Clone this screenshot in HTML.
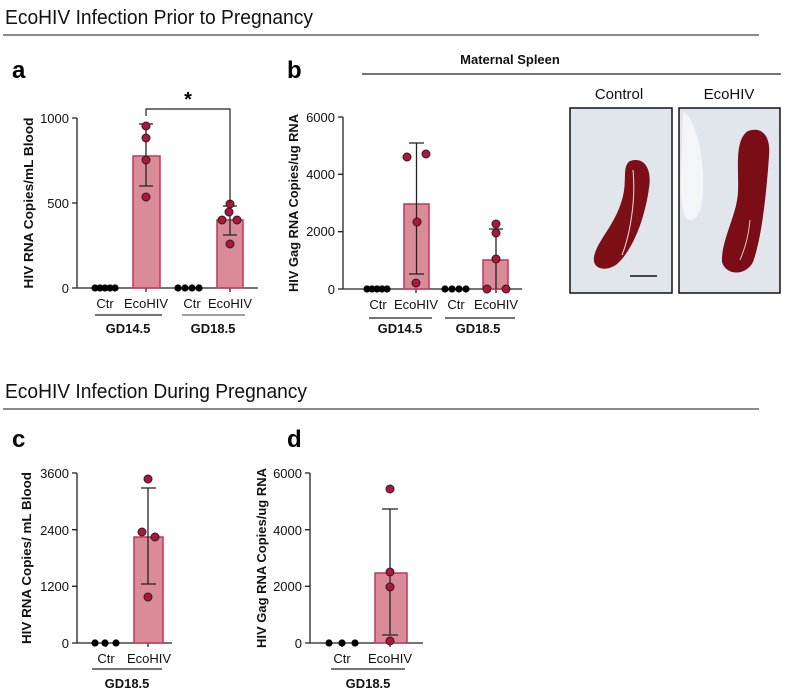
<!DOCTYPE html>
<html><head><meta charset="utf-8"><style>
html,body{margin:0;padding:0;background:#fff;}
svg{display:block;font-family:"Liberation Sans",Arial,sans-serif;}
.t{font-size:13px;fill:#111;}
.b{font-weight:bold;}
.ax{stroke:#222;stroke-width:1.3;fill:none;}
.bar{fill:#d98c98;stroke:#c2375a;stroke-width:1.5;}
.er{stroke:#222;stroke-width:1.3;}
.d{fill:#b3143c;stroke:#222;stroke-width:1;}
.k{fill:#000;}
</style></head><body>
<svg width="785" height="698" viewBox="0 0 785 698">
<!-- headers -->
<text x="5" y="24" font-size="20" textLength="308" lengthAdjust="spacingAndGlyphs" fill="#111">EcoHIV Infection Prior to Pregnancy</text>
<line x1="3" y1="35" x2="759" y2="35" stroke="#444" stroke-width="1.2"/>
<text x="5" y="398" font-size="20" textLength="302" lengthAdjust="spacingAndGlyphs" fill="#111">EcoHIV Infection During Pregnancy</text>
<line x1="3" y1="409" x2="759" y2="409" stroke="#444" stroke-width="1.2"/>
<text x="12" y="78" font-size="24" class="b" fill="#000">a</text>
<text x="287" y="78" font-size="24" class="b" fill="#000">b</text>
<text x="12" y="447" font-size="24" class="b" fill="#000">c</text>
<text x="287" y="447" font-size="24" class="b" fill="#000">d</text>

<!-- Panel a -->
<text transform="translate(33,203) rotate(-90)" text-anchor="middle" class="t b" textLength="171" lengthAdjust="spacingAndGlyphs">HIV RNA Copies/mL Blood</text>
<path class="ax" d="M77,118 V288 H258 M72,118 H77 M72,203 H77 M72,288 H77 M146,288 v4 M230,288 v4"/>
<text x="69" y="123" text-anchor="end" class="t">1000</text>
<text x="69" y="208" text-anchor="end" class="t">500</text>
<text x="69" y="293" text-anchor="end" class="t">0</text>
<rect class="bar" x="133" y="156" width="27" height="132"/>
<rect class="bar" x="217" y="220" width="26" height="68"/>
<path class="er" d="M146,124 V186 M139,124 H153 M139,186 H153 M230,206 V235 M223,206 H237 M223,235 H237"/>
<g class="d"><circle cx="146" cy="126" r="4"/><circle cx="146" cy="138" r="4"/><circle cx="146" cy="160" r="4"/><circle cx="146" cy="197" r="4"/>
<circle cx="230" cy="204" r="4"/><circle cx="229" cy="212" r="4"/><circle cx="222" cy="220" r="4"/><circle cx="237" cy="220" r="4"/><circle cx="230" cy="244" r="4"/></g>
<g class="k"><circle cx="95" cy="288" r="3.6"/><circle cx="100" cy="288" r="3.6"/><circle cx="105" cy="288" r="3.6"/><circle cx="110" cy="288" r="3.6"/><circle cx="115" cy="288" r="3.6"/>
<circle cx="178" cy="288" r="3.6"/><circle cx="185" cy="288" r="3.6"/><circle cx="192" cy="288" r="3.6"/><circle cx="199" cy="288" r="3.6"/></g>
<path d="M146,116 V109 H230 V203" stroke="#222" stroke-width="1.2" fill="none"/>
<text x="188" y="106" text-anchor="middle" font-size="20" class="b">*</text>
<text x="105" y="308" text-anchor="middle" class="t">Ctr</text>
<text x="146" y="308" text-anchor="middle" class="t">EcoHIV</text>
<text x="192" y="308" text-anchor="middle" class="t">Ctr</text>
<text x="230" y="308" text-anchor="middle" class="t">EcoHIV</text>
<line x1="95" y1="315" x2="162" y2="315" stroke="#222" stroke-width="1.2"/>
<line x1="182" y1="315" x2="245" y2="315" stroke="#666" stroke-width="1.2"/>
<text x="128" y="333" text-anchor="middle" class="t b">GD14.5</text>
<text x="213" y="333" text-anchor="middle" class="t b">GD18.5</text>

<!-- Panel b -->
<text x="510" y="64" text-anchor="middle" class="t b">Maternal Spleen</text>
<line x1="362" y1="74" x2="781" y2="74" stroke="#222" stroke-width="1.3"/>
<text transform="translate(298,203) rotate(-90)" text-anchor="middle" class="t b" textLength="178" lengthAdjust="spacingAndGlyphs">HIV Gag RNA Copies/ug RNA</text>
<path class="ax" d="M343,117 V289 H522 M338,117 H343 M338,174.3 H343 M338,231.7 H343 M338,289 H343 M416,289 v4 M496,289 v4"/>
<text x="335" y="122" text-anchor="end" class="t">6000</text>
<text x="335" y="179" text-anchor="end" class="t">4000</text>
<text x="335" y="236" text-anchor="end" class="t">2000</text>
<text x="335" y="294" text-anchor="end" class="t">0</text>
<rect class="bar" x="404" y="204" width="25" height="85"/>
<rect class="bar" x="483" y="260" width="25" height="29"/>
<path class="er" d="M416.5,143 V274 M409,143 H424 M409,274 H424 M496,229 V289 M489,229 H503"/>
<g class="d"><circle cx="407" cy="157" r="4"/><circle cx="426" cy="154" r="4"/><circle cx="417" cy="222" r="4"/><circle cx="416" cy="283" r="4"/>
<circle cx="496" cy="224" r="4"/><circle cx="496" cy="233" r="4"/><circle cx="496" cy="259" r="4"/><circle cx="487" cy="289" r="4"/><circle cx="506" cy="289" r="4"/></g>
<g class="k"><circle cx="367" cy="289" r="3.6"/><circle cx="372" cy="289" r="3.6"/><circle cx="377" cy="289" r="3.6"/><circle cx="382" cy="289" r="3.6"/><circle cx="387" cy="289" r="3.6"/>
<circle cx="445" cy="289" r="3.6"/><circle cx="452" cy="289" r="3.6"/><circle cx="459" cy="289" r="3.6"/><circle cx="466" cy="289" r="3.6"/></g>
<text x="378" y="309" text-anchor="middle" class="t">Ctr</text>
<text x="416" y="309" text-anchor="middle" class="t">EcoHIV</text>
<text x="456" y="309" text-anchor="middle" class="t">Ctr</text>
<text x="496" y="309" text-anchor="middle" class="t">EcoHIV</text>
<line x1="369" y1="318" x2="432" y2="318" stroke="#222" stroke-width="1.2"/>
<line x1="445" y1="318" x2="515" y2="318" stroke="#222" stroke-width="1.2"/>
<text x="400" y="333" text-anchor="middle" class="t b">GD14.5</text>
<text x="478" y="333" text-anchor="middle" class="t b">GD18.5</text>

<!-- photos -->
<text x="619" y="99" text-anchor="middle" font-size="15" fill="#111">Control</text>
<text x="729" y="99" text-anchor="middle" font-size="15" fill="#111">EcoHIV</text>
<rect x="570" y="108" width="102" height="185" fill="#e1e5ec" stroke="#111" stroke-width="1.5"/>
<rect x="679" y="108" width="101" height="185" fill="#e1e5ec" stroke="#111" stroke-width="1.5"/>
<path d="M630,161 C645,156 652,170 649,188 C645,218 633,250 617,264 C607,272 592,270 594,257 C597,240 616,225 623,196 C627,180 622,166 630,161 Z" fill="#7d0f16"/>
<path d="M633,170 C636,200 630,235 622,255" stroke="#f3dede" stroke-width="1" fill="none"/>
<line x1="630" y1="276" x2="657" y2="276" stroke="#111" stroke-width="1.5"/>
<path d="M683,112 C695,118 702,150 703,175 C704,205 700,220 690,220 C682,220 681,200 681,180 Z" fill="#f4f5f7"/>
<path d="M748,131 C762,126 771,136 769,156 C766,200 761,240 753,262 C746,276 726,276 722,262 C721,240 737,215 738,192 C739,170 734,140 748,131 Z" fill="#7a0d15"/>
<path d="M750,220 C748,240 744,250 740,260" stroke="#e9c8c8" stroke-width="1" fill="none"/>

<!-- Panel c -->
<text transform="translate(31,558) rotate(-90)" text-anchor="middle" class="t b" textLength="172" lengthAdjust="spacingAndGlyphs">HIV RNA Copies/ mL Blood</text>
<path class="ax" d="M77,473 V643 H172 M72,473 H77 M72,529.7 H77 M72,586.3 H77 M72,643 H77 M106,643 v4 M148,643 v4"/>
<text x="69" y="478" text-anchor="end" class="t">3600</text>
<text x="69" y="535" text-anchor="end" class="t">2400</text>
<text x="69" y="591" text-anchor="end" class="t">1200</text>
<text x="69" y="648" text-anchor="end" class="t">0</text>
<rect class="bar" x="134" y="537" width="29" height="106"/>
<path class="er" d="M148,488 V584 M141,488 H156 M141,584 H156"/>
<g class="d"><circle cx="148" cy="479" r="4"/><circle cx="142" cy="532" r="4"/><circle cx="155" cy="537" r="4"/><circle cx="148" cy="597" r="4"/></g>
<g class="k"><circle cx="95" cy="643" r="3.6"/><circle cx="105" cy="643" r="3.6"/><circle cx="116" cy="643" r="3.6"/></g>
<text x="106" y="663" text-anchor="middle" class="t">Ctr</text>
<text x="149" y="663" text-anchor="middle" class="t">EcoHIV</text>
<line x1="92" y1="669" x2="162" y2="669" stroke="#222" stroke-width="1.2"/>
<text x="127" y="688" text-anchor="middle" class="t b">GD18.5</text>

<!-- Panel d -->
<text transform="translate(266,558) rotate(-90)" text-anchor="middle" class="t b" textLength="180" lengthAdjust="spacingAndGlyphs">HIV Gag RNA Copies/ug RNA</text>
<path class="ax" d="M310,473 V643 H423 M305,473 H310 M305,529.7 H310 M305,586.3 H310 M305,643 H310 M342,643 v4 M390,643 v4"/>
<text x="302" y="478" text-anchor="end" class="t">6000</text>
<text x="302" y="535" text-anchor="end" class="t">4000</text>
<text x="302" y="591" text-anchor="end" class="t">2000</text>
<text x="302" y="648" text-anchor="end" class="t">0</text>
<rect class="bar" x="375" y="573" width="32" height="70"/>
<path class="er" d="M390,509 V635 M382,509 H398 M382,635 H398"/>
<g class="d"><circle cx="390" cy="489" r="4"/><circle cx="390" cy="572" r="4"/><circle cx="390" cy="587" r="4"/><circle cx="390" cy="641" r="4"/></g>
<g class="k"><circle cx="329" cy="643" r="3.6"/><circle cx="342" cy="643" r="3.6"/><circle cx="355" cy="643" r="3.6"/></g>
<text x="342" y="663" text-anchor="middle" class="t">Ctr</text>
<text x="390" y="663" text-anchor="middle" class="t">EcoHIV</text>
<line x1="331" y1="669" x2="405" y2="669" stroke="#222" stroke-width="1.2"/>
<text x="368" y="688" text-anchor="middle" class="t b">GD18.5</text>
</svg>
</body></html>
